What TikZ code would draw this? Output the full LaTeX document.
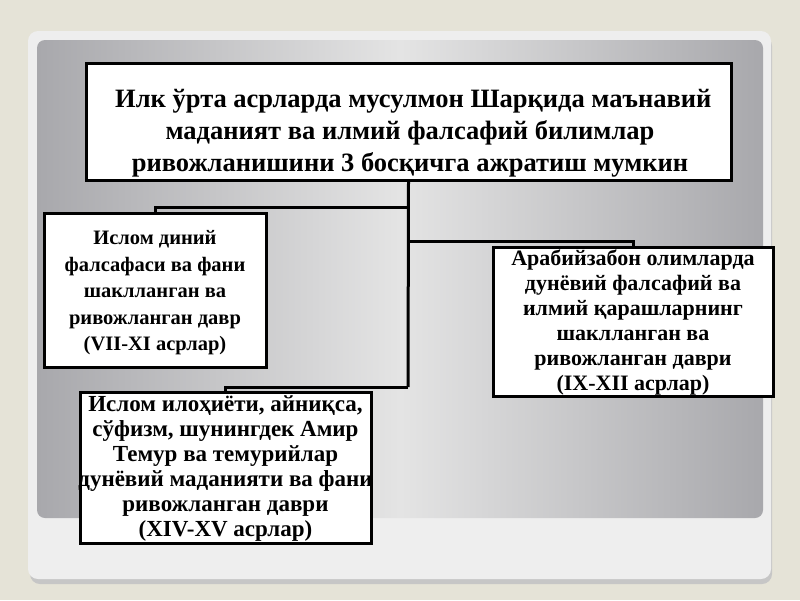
\documentclass[tikz,border=0pt]{standalone}
\usepackage{fontspec}
\setmainfont{Liberation Serif}
\definecolor{bgbeige}{RGB}{229,227,215}
\definecolor{panellight}{RGB}{238,238,238}
\definecolor{panelgray}{RGB}{168,168,172}
\definecolor{panelmid}{RGB}{228,228,228}
\begin{document}
\begin{tikzpicture}[x=1pt,y=-1pt,
  box/.style={draw=black,line width=3pt,fill=white,inner sep=0pt},
  lbl/.style={align=center,font=\bfseries,inner sep=0pt,text=black},
  conn/.style={draw=black,line width=3pt}]
\useasboundingbox (0,0) rectangle (800,600);
\fill[bgbeige] (0,0) rectangle (800,600);
% panel shadow
\fill[gray!45,rounded corners=10pt] (30,36) rectangle (772,584);
% outer light panel
\fill[panellight,rounded corners=10pt] (28,31) rectangle (771,579);
% inner gray panel
\shade[rounded corners=8pt,left color=panelgray,right color=panelgray,middle color=panelmid] (37,40) rectangle (763,518);
% boxes
\node[box,minimum width=645pt,minimum height=117pt] (top) at (408.5,121.5) {};
\node[box,minimum width=222pt,minimum height=154pt] (left) at (155,290) {};
\node[box,minimum width=280pt,minimum height=149pt] (right) at (633,321.5) {};
\node[box,minimum width=291pt,minimum height=151pt] (bot) at (225.5,467.5) {};
% connectors
\coordinate (jL) at (408,207);
\coordinate (jR) at (408,241);
\coordinate (jB) at (408,387);
\draw[conn] (top.south) -- (jB);
\draw[conn] (jL) -| (left.north);
\draw[conn] (jR) -| (right.north);
\draw[conn] (jB) -| (bot.north);
% redraw boxes over connectors
\node[box,minimum width=222pt,minimum height=154pt] at (155,290) {};
\node[box,minimum width=280pt,minimum height=149pt] at (633,321.5) {};
\node[box,minimum width=291pt,minimum height=151pt] at (225.5,467.5) {};
% texts
\node[lbl,font=\bfseries\fontsize{26.5}{32}\selectfont] (ttop) at (410,133) {\ Илк ўрта асрларда мусулмон Шарқида маънавий\\маданият ва илмий фалсафий билимлар\\ривожланишини 3 босқичга ажратиш мумкин};
\node[lbl,font=\bfseries\fontsize{20.5}{26.5}\selectfont] (tleft) at (155,293) {Ислом диний\\фалсафаси ва фани\\шаклланган ва\\ривожланган давр\\(VII-XI асрлар)};
\node[lbl,font=\bfseries\fontsize{22}{25}\selectfont] (tright) at (633,322) {Арабийзабон олимларда\\дунёвий фалсафий ва\\илмий қарашларнинг\\шаклланган ва\\ривожланган даври\\(IX-XII асрлар)};
\node[lbl,font=\bfseries\fontsize{23}{25}\selectfont] (tbot) at (225.5,469) {Ислом илоҳиёти, айниқса,\\сўфизм, шунингдек Амир\\Темур ва темурийлар\\дунёвий маданияти ва фани\\ривожланган даври\\(XIV-XV асрлар)};
\end{tikzpicture}
\end{document}
